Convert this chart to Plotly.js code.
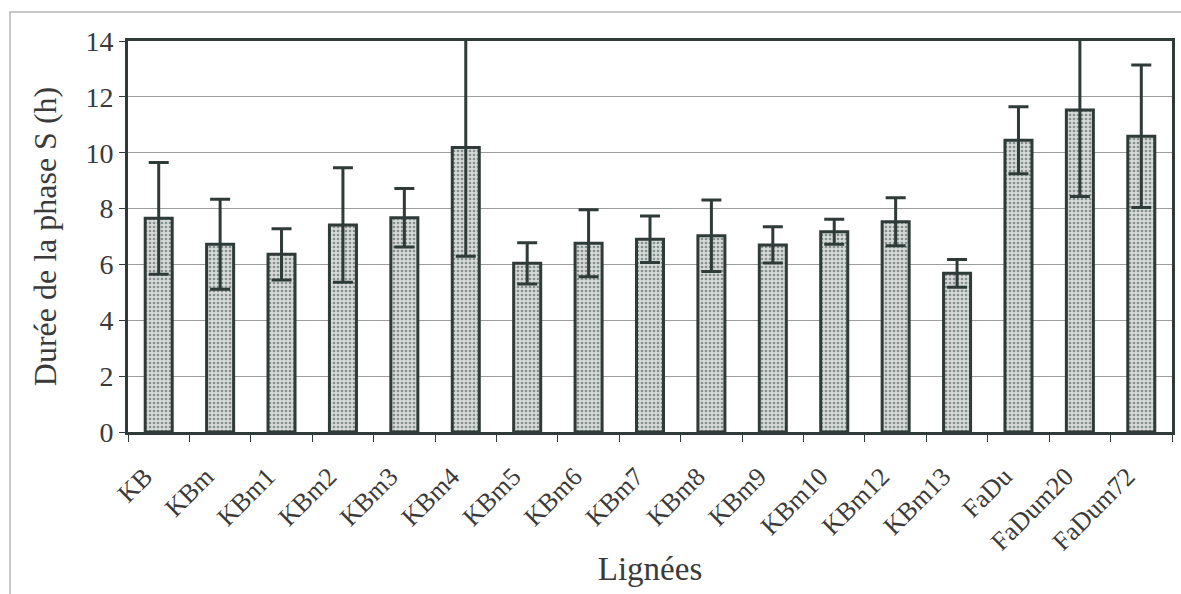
<!DOCTYPE html>
<html>
<head>
<meta charset="utf-8">
<script src="https://cdn.plot.ly/plotly-3.0.1.min.js"></script>
<style>html,body{margin:0;padding:0;background:#fff;}#chart{width:1181px;height:594px;}</style>
</head>
<body>
<div id="chart"></div>
<script>
const lignees = ["KB","KBm","KBm1","KBm2","KBm3","KBm4","KBm5","KBm6","KBm7","KBm8","KBm9","KBm10","KBm12","KBm13","FaDu","FaDum20","FaDum72"];
const dureeS = [7.65,6.72,6.36,7.41,7.67,10.19,6.04,6.76,6.90,7.03,6.70,7.17,7.53,5.68,10.45,11.53,10.59];
const ecartType = [2.0,1.61,0.92,2.05,1.05,3.9,0.74,1.2,0.83,1.28,0.65,0.45,0.86,0.5,1.2,3.1,2.55];
const yTicks = [0,2,4,6,8,10,12,14];

const dark = "#2f3b38";
const txt = "#3a3a3a";
const serif = "Liberation Serif, Times New Roman, serif";

const trace = {
  type: "bar",
  x: lignees,
  y: dureeS,
  width: 0.44,
  marker: {
    color: "#cfd4d1",
    line: {color: dark, width: 3},
    pattern: {shape: ".", bgcolor: "#d6dad8", fgcolor: "#858f8b", size: 4, solidity: 0.35}
  },
  error_y: {type: "data", array: ecartType, visible: true, color: dark, thickness: 3, width: 10},
  hoverinfo: "x+y"
};

const layout = {
  width: 1181, height: 594,
  margin: {l: 128, r: 9, t: 41, b: 162},
  paper_bgcolor: "#fff", plot_bgcolor: "#fff",
  showlegend: false,
  font: {family: serif, color: txt, size: 24},
  xaxis: {
    type: "category",
    tickangle: -45,
    tickson: "boundaries",
    ticks: "outside", ticklen: 7, tickcolor: dark, tickwidth: 1,
    ticklabelstandoff: 16,
    ticklabelshift: -14,
    showline: true, linecolor: dark, linewidth: 3, mirror: true,
    showgrid: false,
    tickfont: {family: serif, size: 26, color: txt},
    title: {text: "Lignées", font: {family: serif, size: 33, color: txt}, standoff: 2}
  },
  yaxis: {
    range: [0, 14],
    tickvals: yTicks,
    ticktext: yTicks.map(String),
    ticks: "outside", ticklen: 6, tickcolor: dark, tickwidth: 1,
    showline: true, linecolor: dark, linewidth: 3, mirror: true,
    showgrid: true, gridcolor: "#9a9f9d", gridwidth: 1,
    zeroline: false,
    tickfont: {family: serif, size: 28, color: txt},
    title: {text: "Durée de la phase S (h)", font: {family: serif, size: 32, color: txt}, standoff: 20}
  },
  shapes: [{
    type: "rect", xref: "paper", yref: "paper",
    x0: -0.113, x1: 1.05, y0: -0.6, y1: 1.074,
    line: {color: "#b5b8b7", width: 1.5}, fillcolor: "rgba(0,0,0,0)", layer: "below"
  }]
};

Plotly.newPlot("chart", [trace], layout, {displayModeBar: false, staticPlot: true});
</script>
</body>
</html>
